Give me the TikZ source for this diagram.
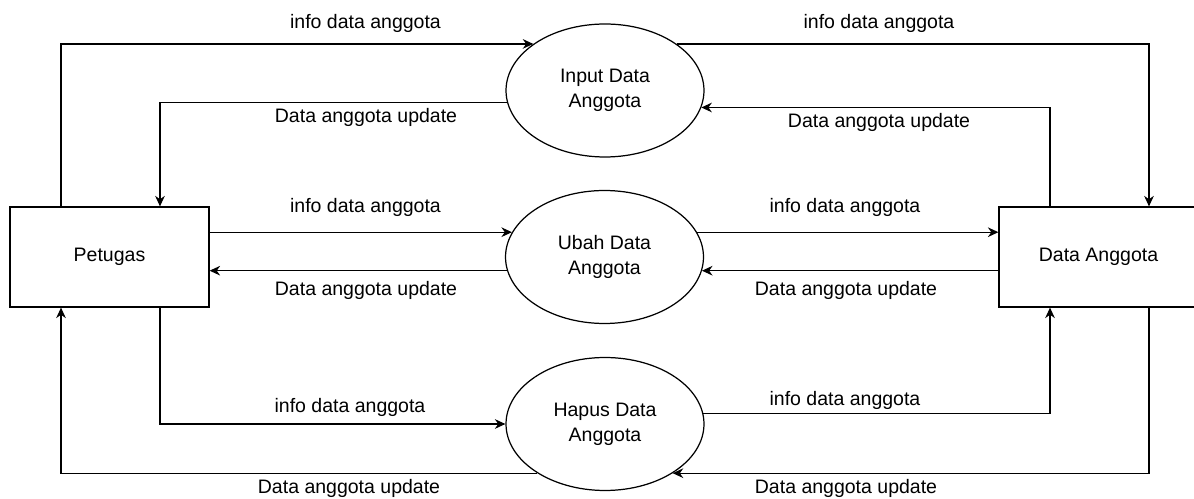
\documentclass[tikz,border=0pt]{standalone}
\usepackage{fontspec}
\setmainfont{Liberation Sans}
\usetikzlibrary{arrows.meta, shapes.geometric}

\begin{document}
\begin{tikzpicture}[x=0.02cm, y=-0.02cm, >={Stealth[length=6pt,width=5.5pt]},
  line width=0.7pt,
  every node/.style={font=\fontsize{11.1}{14.2}\selectfont},
  entity/.style={rectangle,draw,minimum width=3.98cm,minimum height=2cm,inner sep=0pt},
  process/.style={ellipse,draw,minimum width=3.96cm,minimum height=2.66cm,inner sep=0pt,align=center},
  flow/.style={->}]

  \useasboundingbox (0,0) rectangle (1194,499);

  \node[entity] (petugas) at (109.5,257) {Petugas};
  \node[entity] (anggota) at (1098.5,257) {Data Anggota};
  \node[process] (input) at (605,90.5) {Input Data\\Anggota};
  \node[process] (ubah) at (604.5,257) {Ubah Data\\Anggota};
  \node[process] (hapus) at (605,424) {Hapus Data\\Anggota};

  % input data anggota
  \draw[flow] ([xshift=-0.97cm]petugas.north) |- (input.147);
  \draw[flow] (input.33) -| ([xshift=1.01cm]anggota.north);
  \draw[flow] ([xshift=-0.97cm]anggota.north) |- (input.350);
  \draw[flow] (input.187) -| ([xshift=1.01cm]petugas.north);

  % ubah data anggota
  \draw[flow] (petugas.east |- ubah.165) -- (ubah.165);
  \draw[flow] (ubah.15) -- (ubah.15 -| anggota.west);
  \draw[flow] (anggota.west |- ubah.352) -- (ubah.352);
  \draw[flow] (ubah.188) -- (ubah.188 -| petugas.east);

  % hapus data anggota
  \draw[flow] ([xshift=1.01cm]petugas.south) |- (hapus.west);
  \draw[flow] (hapus.6) -| ([xshift=-0.97cm]anggota.south);
  \draw[flow] ([xshift=1.01cm]anggota.south) |- (hapus.324);
  \draw[flow] (hapus.216) -| ([xshift=-0.97cm]petugas.south);

  % labels
  \node (lbl1) at (365.5,23) {info data anggota};
  \node (lbl2) at (879,23) {info data anggota};
  \node (lbl3) at (366,117) {Data anggota update};
  \node (lbl4) at (879,122) {Data anggota update};
  \node (lbl5) at (365.5,207) {info data anggota};
  \node (lbl6) at (845,207) {info data anggota};
  \node (lbl7) at (366,290) {Data anggota update};
  \node (lbl8) at (846,290) {Data anggota update};
  \node (lbl9) at (350,407) {info data anggota};
  \node (lbl10) at (845,400) {info data anggota};
  \node (lbl11) at (349,488) {Data anggota update};
  \node (lbl12) at (846,488) {Data anggota update};
\end{tikzpicture}
\end{document}
